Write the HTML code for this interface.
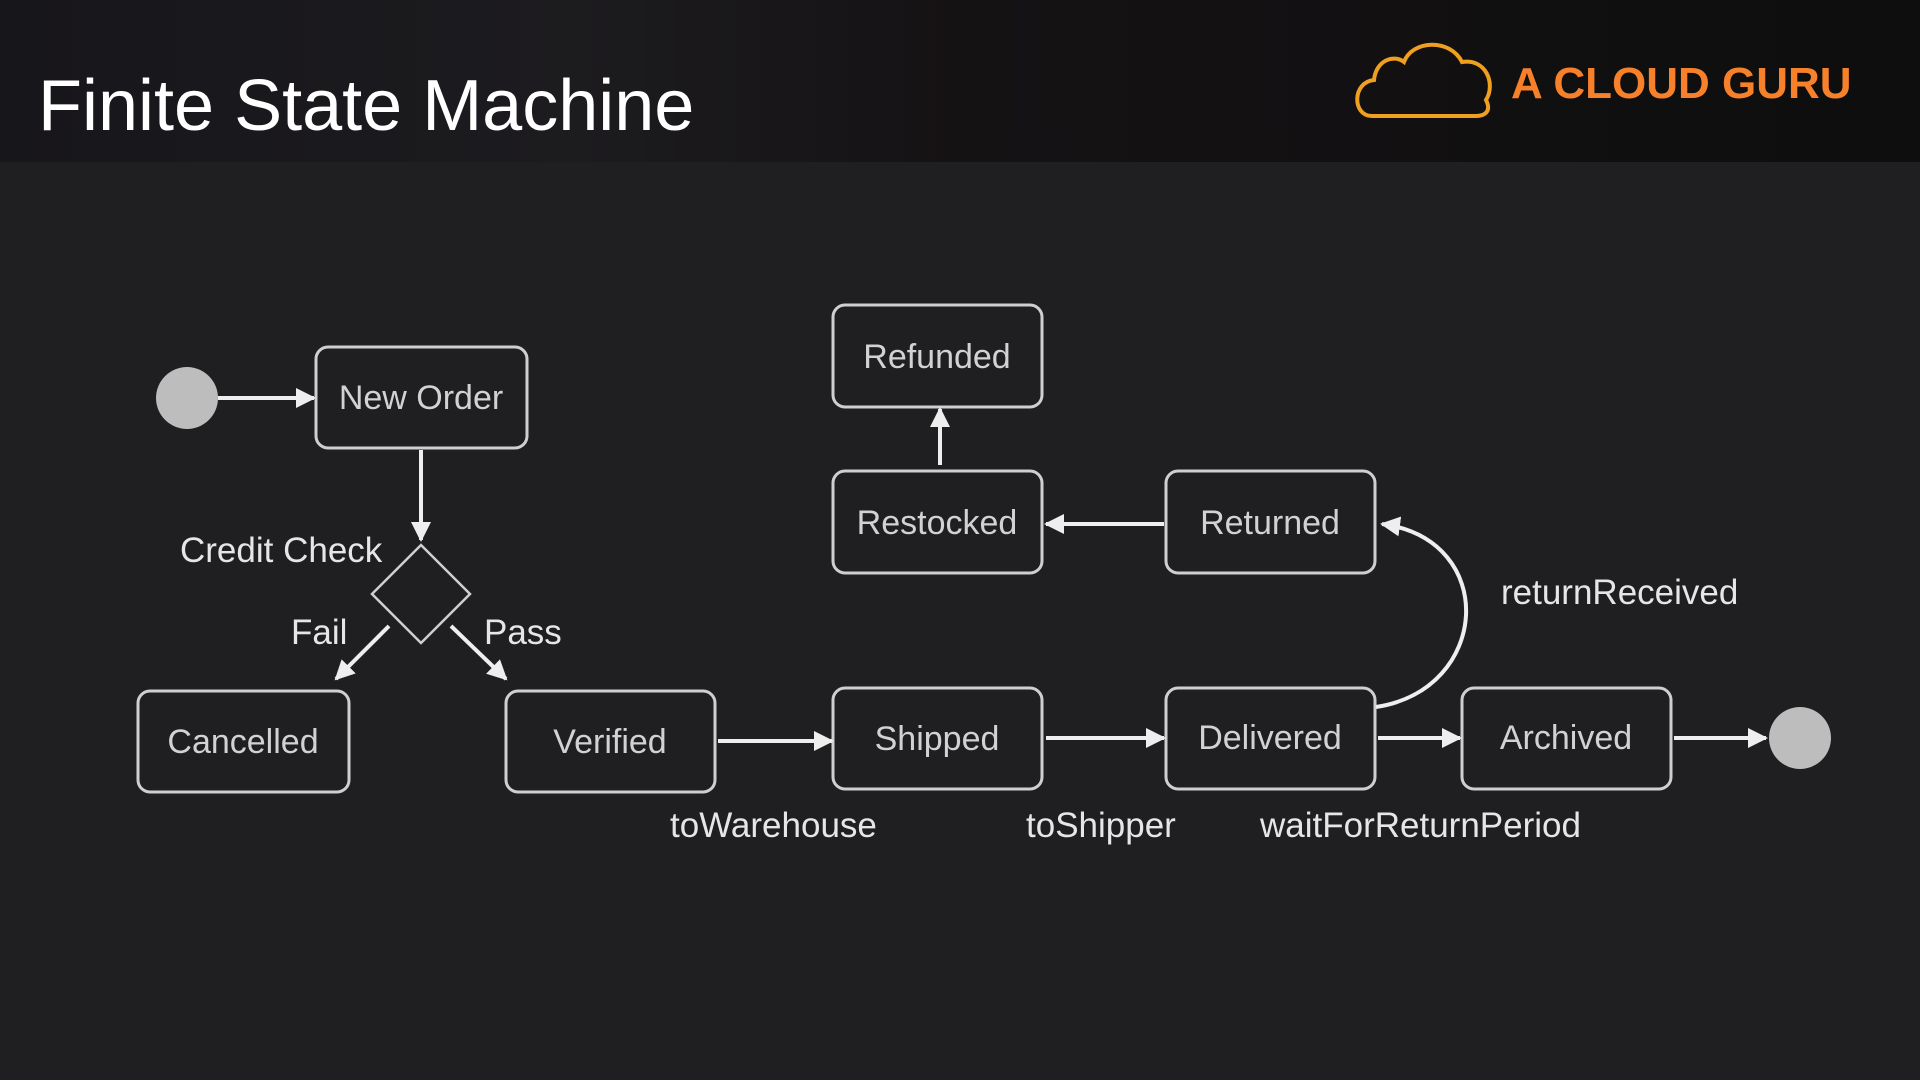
<!DOCTYPE html>
<html><head><meta charset="utf-8"><style>
html,body{margin:0;padding:0;background:#1f1e21;width:1920px;height:1080px;overflow:hidden}
</style></head><body>
<svg width="1920" height="1080" xmlns="http://www.w3.org/2000/svg" style="display:block">
<defs>
<linearGradient id="hg" x1="0" x2="1">
<stop offset="0" stop-color="#17161b"/><stop offset="0.3" stop-color="#1c1b1e"/><stop offset="0.5" stop-color="#151214"/><stop offset="1" stop-color="#0e0e0e"/>
</linearGradient>
<marker id="ah" viewBox="0 0 10 10" refX="9" refY="5" markerWidth="5" markerHeight="5" orient="auto" markerUnits="strokeWidth">
<path d="M0,0 L10,5 L0,10 z" fill="#eee"/></marker>
</defs>
<rect x="0" y="0" width="1920" height="162" fill="url(#hg)"/>
<rect x="0" y="162" width="1920" height="918" fill="#1f1e21"/>
<text x="38" y="130" font-family="Liberation Sans, sans-serif" font-size="72" fill="#fff">Finite State Machine</text>
<g fill="none" stroke="#f0a020" stroke-width="4">
<path d="M1372,116 C1352,116 1352,82 1374,80 C1376,60 1394,54 1404,62 C1412,40 1450,38 1462,62 C1486,58 1496,84 1486,100 C1492,112 1484,116 1476,116 Z"/>
</g>
<text x="1511" y="98" font-family="Liberation Sans, sans-serif" font-weight="bold" font-size="44" fill="#f7812b">A CLOUD GURU</text>
<g fill="none" stroke="#cfcfcf" stroke-width="3">
<rect x="316" y="347" width="211" height="101" rx="12"/>
<rect x="138" y="691" width="211" height="101" rx="12"/>
<rect x="506" y="691" width="209" height="101" rx="12"/>
<rect x="833" y="688" width="209" height="101" rx="12"/>
<rect x="1166" y="688" width="209" height="101" rx="12"/>
<rect x="1462" y="688" width="209" height="101" rx="12"/>
<rect x="833" y="305" width="209" height="102" rx="12"/>
<rect x="833" y="471" width="209" height="102" rx="12"/>
<rect x="1166" y="471" width="209" height="102" rx="12"/>
<path d="M421,545 L470,594 L421,643 L372,594 Z" stroke-width="2.5"/>
</g>
<circle cx="187" cy="398" r="31" fill="#bdbdbd"/>
<circle cx="1800" cy="738" r="31" fill="#bdbdbd"/>
<g stroke="#eee" stroke-width="4" fill="none" marker-end="url(#ah)">
<line x1="218" y1="398" x2="314" y2="398"/>
<line x1="421" y1="450" x2="421" y2="540"/>
<line x1="389" y1="626" x2="336" y2="679"/>
<line x1="451" y1="626" x2="506" y2="679"/>
<line x1="718" y1="741" x2="832" y2="741"/>
<line x1="1046" y1="738" x2="1164" y2="738"/>
<line x1="1378" y1="738" x2="1460" y2="738"/>
<line x1="1674" y1="738" x2="1766" y2="738"/>
<line x1="940" y1="465" x2="940" y2="409"/>
<line x1="1164" y1="524" x2="1046" y2="524"/>
<path d="M1376,707 C1490,690 1500,540 1382,524"/>
</g>
<g font-family="Liberation Sans, sans-serif" font-size="34" fill="#d2d2d2" text-anchor="middle">
<text x="421" y="409">New Order</text>
<text x="243" y="753">Cancelled</text>
<text x="610" y="753">Verified</text>
<text x="937" y="750">Shipped</text>
<text x="1270" y="749">Delivered</text>
<text x="1566" y="749">Archived</text>
<text x="937" y="368">Refunded</text>
<text x="937" y="534">Restocked</text>
<text x="1270" y="534">Returned</text>
</g>
<g font-family="Liberation Sans, sans-serif" font-size="35" fill="#e6e6e6">
<text x="180" y="562">Credit Check</text>
<text x="291" y="644">Fail</text>
<text x="484" y="644">Pass</text>
<text x="670" y="837">toWarehouse</text>
<text x="1026" y="837">toShipper</text>
<text x="1260" y="837">waitForReturnPeriod</text>
<text x="1501" y="604">returnReceived</text>
</g>
</svg>
</body></html>
